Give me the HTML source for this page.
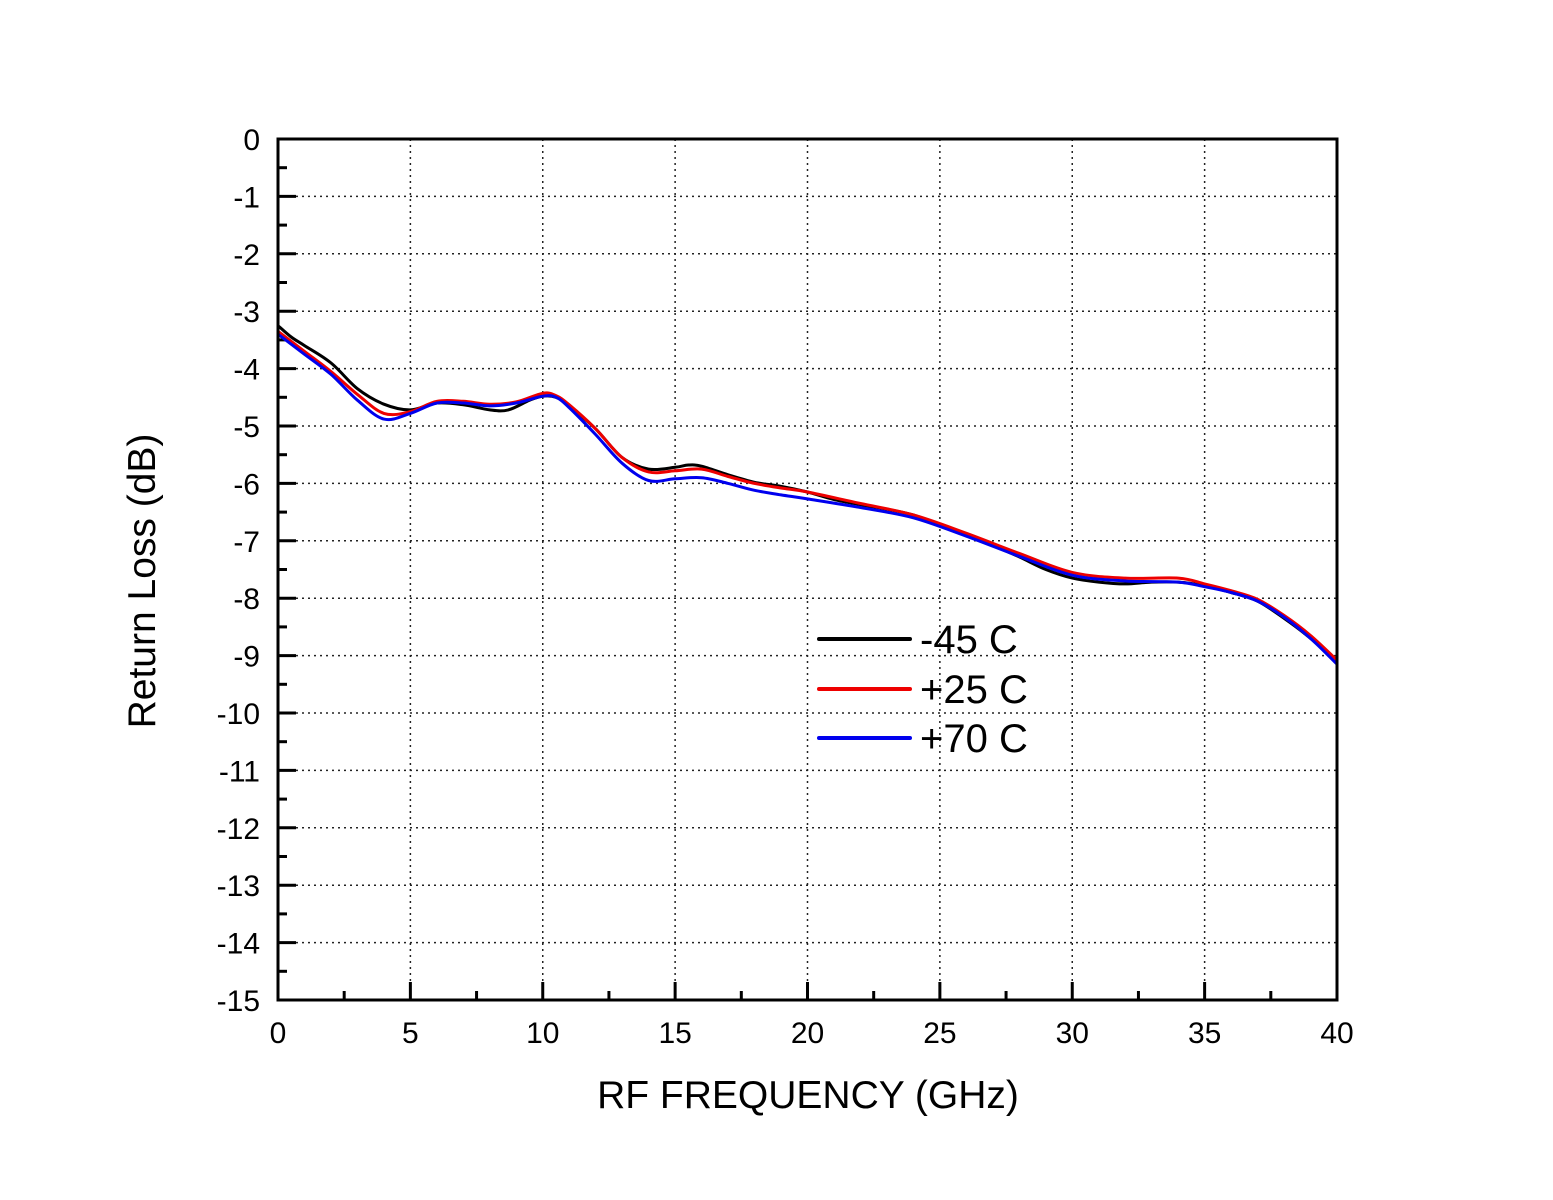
<!DOCTYPE html>
<html><head><meta charset="utf-8"><style>body{margin:0;background:#fff}svg{display:block}text{font-family:"Liberation Sans",Arial,sans-serif}</style></head>
<body>
<svg id="s" width="1553" height="1200" xmlns="http://www.w3.org/2000/svg">
<g id="grid" stroke="#222" stroke-width="1.5" stroke-dasharray="2,4"></g>
<g id="ticks" stroke="#000" stroke-width="3"></g>
<g id="lab" font-size="30" fill="#000"></g>
<g id="curves" fill="none" stroke-width="3" stroke-linejoin="round"></g>
<rect x="278" y="139" width="1059" height="861" fill="none" stroke="#000" stroke-width="3"/>
<line x1="819" y1="639" x2="910" y2="639" stroke="#000" stroke-width="4" stroke-linecap="round"/>
<line x1="819" y1="689" x2="910" y2="689" stroke="#e00" stroke-width="4" stroke-linecap="round"/>
<line x1="819" y1="738" x2="910" y2="738" stroke="#00e" stroke-width="4" stroke-linecap="round"/>
<text x="920" y="653" font-size="40">-45 C</text>
<text x="920" y="703" font-size="40">+25 C</text>
<text x="920" y="752" font-size="40">+70 C</text>
<text x="808" y="1108" font-size="39" text-anchor="middle">RF FREQUENCY (GHz)</text>
<text transform="translate(155,581) rotate(-90)" font-size="39" text-anchor="middle">Return Loss (dB)</text>
</svg>
<script>
var X0=278,X1=1337,Y0=139,Y1=1000;
function px(f){return X0+f*(X1-X0)/40}function py(d){return Y0-d*(Y1-Y0)/15}
var ns="http://www.w3.org/2000/svg";
function el(p,t,a,txt){var e=document.createElementNS(ns,t);for(var k in a)e.setAttribute(k,a[k]);if(txt!==undefined)e.textContent=txt;document.getElementById(p).appendChild(e);}
for(var f=5;f<40;f+=5)el("grid","line",{x1:px(f),y1:Y0,x2:px(f),y2:Y1});
for(var d=-1;d>-15;d--)el("grid","line",{x1:X0,y1:py(d),x2:X1,y2:py(d)});
for(var f=0;f<=40;f+=2.5){var L=(f%5==0)?18:9;el("ticks","line",{x1:px(f),y1:Y1,x2:px(f),y2:Y1-L});}
for(var d=0;d>=-15;d-=0.5){var L=(d%1==0)?18:9;el("ticks","line",{x1:X0,y1:py(d),x2:X0+L,y2:py(d)});}
for(var f=0;f<=40;f+=5)el("lab","text",{x:px(f),y:1043,"text-anchor":"middle"},""+f);
for(var d=0;d>=-15;d--)el("lab","text",{x:260,y:py(d)+11,"text-anchor":"end"},""+d);
var S={
"#000":[[0,-3.25],[0.5,-3.45],[1,-3.6],[2,-3.9],[3,-4.35],[4,-4.62],[5,-4.72],[6,-4.6],[7,-4.63],[8,-4.72],[8.7,-4.72],[9.5,-4.55],[10,-4.48],[10.5,-4.5],[11,-4.65],[12,-5.05],[13,-5.55],[14,-5.75],[15,-5.72],[15.5,-5.68],[16,-5.7],[17,-5.85],[18,-5.98],[19,-6.05],[20,-6.15],[21,-6.28],[22,-6.37],[23,-6.45],[24,-6.55],[25,-6.72],[26,-6.88],[27,-7.08],[28,-7.28],[29,-7.5],[30,-7.65],[31,-7.72],[32,-7.75],[33,-7.72],[34,-7.72],[35,-7.78],[36,-7.9],[37,-8.05],[38,-8.35],[39,-8.7],[40,-9.12]],
"#e00":[[0,-3.35],[1,-3.7],[2,-4.05],[3,-4.45],[4,-4.78],[5,-4.75],[6,-4.57],[7,-4.57],[8,-4.62],[9,-4.58],[10,-4.43],[10.5,-4.47],[11,-4.63],[12,-5.05],[13,-5.55],[14,-5.8],[15,-5.78],[16,-5.75],[17,-5.88],[18,-6.0],[19,-6.08],[20,-6.15],[22,-6.35],[24,-6.55],[26,-6.87],[28,-7.22],[30,-7.55],[32,-7.65],[34,-7.65],[35,-7.75],[36,-7.87],[37,-8.02],[38,-8.3],[39,-8.65],[40,-9.08]],
"#00e":[[0,-3.4],[1,-3.75],[2,-4.1],[3,-4.55],[4,-4.88],[5,-4.78],[6,-4.6],[7,-4.6],[8,-4.65],[9,-4.6],[10,-4.48],[10.5,-4.5],[11,-4.68],[12,-5.15],[13,-5.65],[14,-5.95],[15,-5.92],[16,-5.9],[17,-6.0],[18,-6.12],[19,-6.2],[20,-6.27],[22,-6.42],[24,-6.6],[26,-6.92],[28,-7.27],[30,-7.6],[32,-7.7],[34,-7.72],[35,-7.8],[36,-7.9],[37,-8.05],[38,-8.33],[39,-8.7],[40,-9.15]]};
for(var c in S){var P=S[c].map(function(q){return [px(q[0]),py(q[1])]});
var d="M"+P[0][0].toFixed(1)+","+P[0][1].toFixed(1);
for(var i=0;i<P.length-1;i++){var p0=P[Math.max(0,i-1)],p1=P[i],p2=P[i+1],p3=P[Math.min(P.length-1,i+2)];
var c1=[p1[0]+(p2[0]-p0[0])/6,p1[1]+(p2[1]-p0[1])/6],c2=[p2[0]-(p3[0]-p1[0])/6,p2[1]-(p3[1]-p1[1])/6];
d+=" C"+c1[0].toFixed(1)+","+c1[1].toFixed(1)+" "+c2[0].toFixed(1)+","+c2[1].toFixed(1)+" "+p2[0].toFixed(1)+","+p2[1].toFixed(1);}
el("curves","path",{d:d,stroke:c});}
</script>
</body></html>
